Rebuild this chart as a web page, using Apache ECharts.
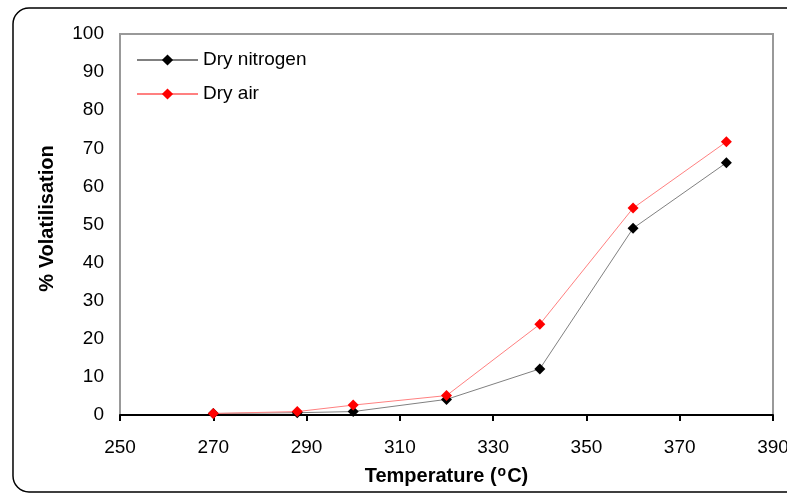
<!DOCTYPE html>
<html style="height: 100%">
<head>
<meta charset="utf-8">
<script src="https://cdn.jsdelivr.net/npm/echarts@6/dist/echarts.min.js"></script>
</head>
<body style="height: 100%; margin: 0; background: #fff;">
<div id="container" style="width: 787px; height: 495px;"></div>
<script type="text/javascript">
// data
var temps = [270, 288, 300, 320, 340, 360, 380];
var dryNitrogen = [0.4, 0.6, 0.9, 4.1, 12.1, 49.0, 66.2];
var dryAir = [0.4, 0.9, 2.6, 5.1, 23.8, 54.3, 71.7];
var seriesNames = ['Dry nitrogen', 'Dry air'];

function pairs(xs, ys) {
    return xs.map(function (x, i) { return [x, ys[i]]; });
}

var chart = echarts.init(document.getElementById('container'));
var font = 'Liberation Sans, Arial, sans-serif';

var option = {
    animation: false,
    textStyle: { fontFamily: font },
    grid: {
        left: 120, top: 34, right: 14, bottom: 80,
        outerBoundsMode: 'none', containLabel: false,
        show: true, borderColor: '#999', borderWidth: 2, backgroundColor: '#fff'
    },
    graphic: [{
        type: 'rect',
        shape: { x: 13, y: 8, width: 800, height: 484, r: 16 },
        style: { fill: 'none', stroke: '#000', lineWidth: 1.5 },
        z: -1
    }],
    legend: {
        orient: 'vertical',
        left: 131, top: 45,
        itemWidth: 61, itemHeight: 14, itemGap: 14,
        textStyle: { fontSize: 19, lineHeight: 20, color: '#000', fontFamily: font },
        data: seriesNames
    },
    xAxis: {
        type: 'value',
        min: 250, max: 390, interval: 20,
        name: '{b|Temperature (}{s|o}{b|C)}',
        nameLocation: 'middle', nameGap: 50,
        nameTextStyle: {
            rich: {
                b: { fontSize: 20, fontWeight: 'bold', color: '#000', fontFamily: font },
                s: { fontSize: 14, fontWeight: 'bold', color: '#000', fontFamily: font, verticalAlign: 'top', padding: [0, 1, 9, 1] }
            }
        },
        axisLine: { onZero: false, lineStyle: { color: '#000', width: 2 } },
        axisTick: { show: true, length: 6, lineStyle: { color: '#000', width: 2 } },
        axisLabel: { fontSize: 19, color: '#000', margin: 23 },
        splitLine: { show: false }
    },
    yAxis: {
        type: 'value',
        min: 0, max: 100, interval: 10,
        name: '% Volatilisation',
        nameLocation: 'middle', nameGap: 63,
        nameTextStyle: { fontSize: 20, fontWeight: 'bold', color: '#000', padding: [0, 0, 0, 12] },
        axisLine: { show: true, lineStyle: { color: '#999', width: 1 } },
        axisTick: { show: false },
        axisLabel: { fontSize: 19, color: '#000', margin: 16 },
        splitLine: { show: false }
    },
    series: [
        {
            name: seriesNames[0],
            type: 'line',
            data: pairs(temps, dryNitrogen),
            symbol: 'diamond', symbolSize: 11,
            itemStyle: { color: '#000' },
            lineStyle: { color: '#808080', width: 1 },
            z: 3
        },
        {
            name: seriesNames[1],
            type: 'line',
            data: pairs(temps, dryAir),
            symbol: 'diamond', symbolSize: 11,
            itemStyle: { color: '#ff0000' },
            lineStyle: { color: '#ff8080', width: 1 },
            z: 4
        }
    ]
};
chart.setOption(option);
</script>
</body>
</html>
